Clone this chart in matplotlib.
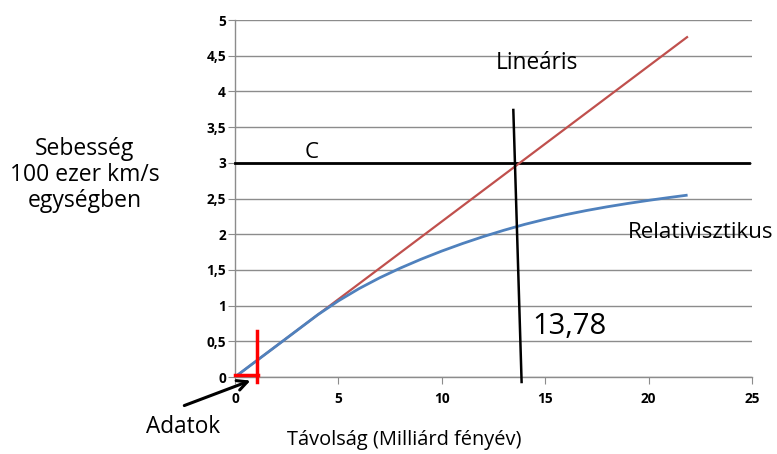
import numpy as np
import matplotlib.pyplot as plt

plt.rcParams['font.family'] = ['Open Sans', 'DejaVu Sans']

# data
lin_x = [0, 21.86]
lin_y = [0, 4.76]

rel_x = [0, 1, 2, 3, 4, 5, 6, 7, 8, 9, 10, 11, 12, 13, 14, 15, 16, 17, 18, 19, 20, 21, 21.82]
rel_y = [0, 0.218, 0.435, 0.653, 0.871, 1.066, 1.238, 1.390, 1.526, 1.650, 1.764, 1.869,
         1.966, 2.055, 2.137, 2.209, 2.274, 2.332, 2.384, 2.431, 2.474, 2.514, 2.545]

c_x = [0, 24.85]
c_y = [3, 3]

cut_x = [13.46, 13.86]
cut_y = [3.74, -0.07]

data_h_x = [0, 1.1]
data_h_y = [0.03, 0.03]
data_v_x = [1.07, 1.07]
data_v_y = [-0.07, 0.65]

xticks = [0, 5, 10, 15, 20, 25]
yticks = [0, 0.5, 1, 1.5, 2, 2.5, 3, 3.5, 4, 4.5, 5]
ytick_labels = ['0', '0,5', '1', '1,5', '2', '2,5', '3', '3,5', '4', '4,5', '5']

fig = plt.figure(figsize=(7.77, 4.54), dpi=100)
ax = fig.add_axes([0.3024, 0.1696, 0.6654, 0.7863])

grid_col = '#8c8c8c'
ax.set_xlim(0, 25)
ax.set_ylim(0, 5)
ax.set_yticks(yticks)
ax.set_yticklabels(ytick_labels)
ax.set_xticks(xticks)
ax.yaxis.grid(True, color=grid_col, linewidth=1.0)
ax.set_axisbelow(True)
for s in ['top', 'right']:
    ax.spines[s].set_visible(False)
for s in ['left', 'bottom']:
    ax.spines[s].set_color(grid_col)
    ax.spines[s].set_linewidth(1.0)
ax.tick_params(axis='y', length=5, color=grid_col, pad=1.5, labelsize=9.8)
ax.tick_params(axis='x', length=5, color=grid_col, pad=5.5, labelsize=9.8)
for lab in ax.get_xticklabels() + ax.get_yticklabels():
    lab.set_fontweight('bold')

ax.plot(c_x, c_y, color='black', linewidth=2.0, clip_on=False, zorder=3)
ax.plot(lin_x, lin_y, color='#C0504D', linewidth=1.6, zorder=4)
ax.plot(rel_x, rel_y, color='#4F81BD', linewidth=2.0, zorder=4)
ax.plot(cut_x, cut_y, color='black', linewidth=1.8, clip_on=False, zorder=5)
ax.plot(data_h_x, data_h_y, color='#FF0000', linewidth=2.5, clip_on=False, zorder=6)
ax.plot(data_v_x, data_v_y, color='#FF0000', linewidth=2.5, clip_on=False, zorder=6)

ax.annotate('', xy=(0.75, -0.05), xytext=(-2.45, -0.4),
            arrowprops=dict(arrowstyle='->', color='black', lw=2.2,
                            mutation_scale=18, shrinkA=0, shrinkB=0),
            annotation_clip=False)

ax.text(3.7, 3.0, 'C', fontsize=16, ha='center', va='bottom')
ax.text(14.62, 4.4, 'Lineáris', fontsize=16.3, ha='center', va='center')
ax.text(22.5, 2.03, 'Relativisztikus', fontsize=16.1, ha='center', va='center')
ax.text(14.38, 0.6, '13,78', fontsize=21, ha='left', va='baseline')

fig.text(183 / 777, 1 - 427 / 454, 'Adatok', fontsize=16.3, ha='center', va='center')
fig.text(404 / 777, 1 - 440 / 454, 'Távolság (Milliárd fényév)', fontsize=14.4,
         ha='center', va='center')
fig.text(85 / 777, 1 - 175 / 454, 'Sebesség\n100 ezer km/s\negységben', fontsize=16.5,
         ha='center', va='center', linespacing=1.1)

fig.savefig('out.png', dpi=100)
